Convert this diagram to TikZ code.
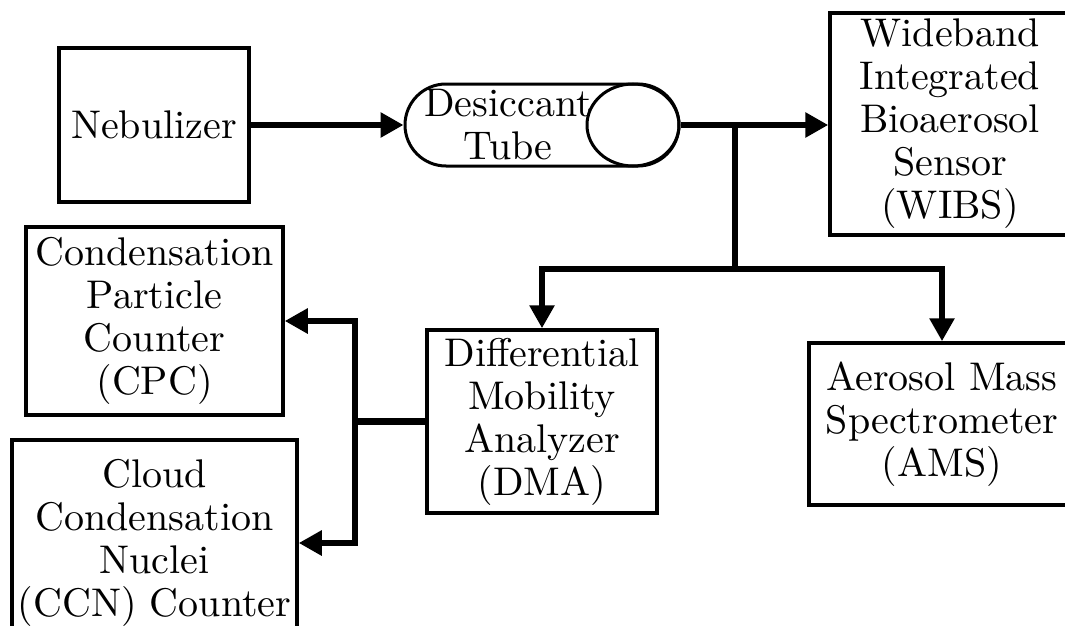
\documentclass[tikz,border=0pt]{standalone}
\usepackage{fontspec}
\setmainfont{lmroman10-regular.otf}
\usetikzlibrary{arrows.meta,shapes.misc,shapes.geometric}
\begin{document}
\begin{tikzpicture}[x=1pt,y=-1pt,
  txt/.style={align=center, inner sep=0pt, font=\fontsize{40}{43}\selectfont},
  box/.style={txt, draw, line width=3.5pt},
  flow/.style={line width=6.6pt, -{Triangle[length=23pt,width=24pt]}},
  pipe/.style={line width=6.6pt}]
\useasboundingbox (0,0) rectangle (1065,626);
\clip (0,0) rectangle (1065,626);
% boxes
\node[box, minimum width=190pt, minimum height=154pt] (neb) at (154,125) {Nebulizer};
\node[draw, rounded rectangle, line width=3pt, minimum width=274pt, minimum height=82pt, inner sep=0pt] (tube) at (542,125) {};
\node[draw, ellipse, line width=3pt, minimum width=92pt, minimum height=82pt, inner sep=0pt] (ell) at (633,125) {};
\node[txt] (tubetxt) at (508,125) {Desiccant\\Tube};
\node[box, minimum width=240pt, minimum height=222pt] (wibs) at (950,124) {Wideband\\Integrated\\Bioaerosol\\Sensor\\(WIBS)};
\node[box, minimum width=230pt, minimum height=183pt] (dma) at (542,421.5) {Differential\\Mobility\\Analyzer\\(DMA)};
\node[box, minimum width=266pt, minimum height=162pt] (ams) at (942,424) {Aerosol Mass\\Spectrometer\\(AMS)};
\node[box, minimum width=257pt, minimum height=188pt] (cpc) at (154.5,321) {Condensation\\Particle\\Counter\\(CPC)};
\node[box, minimum width=285pt, minimum height=206pt] (ccn) at (154.5,543) {Cloud\\Condensation\\Nuclei\\(CCN) Counter};
% connectors
\coordinate (split) at (735,125);
\coordinate (fork) at (735,269);
\coordinate (dsplit) at (355,421.5);
\draw[flow] (neb.east) -- (tube.west);
\draw[flow] (ell.east) -- (ell.east -| wibs.west);
\draw[pipe] (split) -- (fork);
\draw[flow] (fork) -| (dma.north);
\draw[flow] (fork) -| (ams.north);
\draw[pipe] (dma.west) -- (dsplit);
\draw[flow] (dsplit) |- (cpc.east);
\draw[flow] (dsplit) |- (ccn.east);
\end{tikzpicture}
\end{document}
